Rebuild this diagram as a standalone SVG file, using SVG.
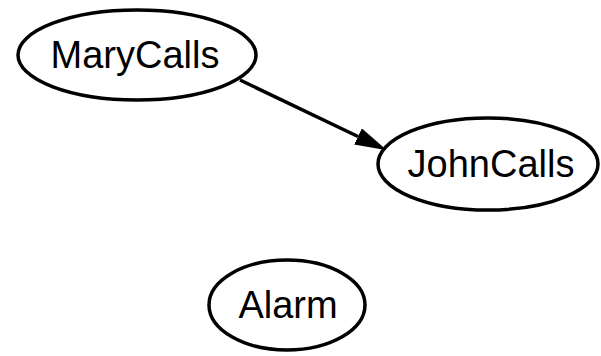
<svg xmlns="http://www.w3.org/2000/svg" width="601" height="356" viewBox="0 0 601 356">
<style>
.node ellipse{fill:#fff;stroke:#000;stroke-width:3.5}
.node text{font-family:"Liberation Sans",Arial,sans-serif;font-size:38px;fill:#000;text-anchor:middle}
.edge line{stroke:#000;stroke-width:3.5}
</style>
<defs>
<marker id="arr" markerUnits="userSpaceOnUse" viewBox="0 0 32 18" markerWidth="32" markerHeight="18" refX="0" refY="9" orient="auto">
<path d="M0,0 L32,9 L0,18 z" fill="#000"/>
</marker>
</defs>
<rect width="601" height="356" fill="#fff"/>
<g id="edges" class="edge">
<line x1="240" y1="80" x2="358" y2="136.5" marker-end="url(#arr)"/>
</g>
<g id="MaryCalls" class="node">
<ellipse cx="137" cy="55" rx="119" ry="45"/>
<text x="135" y="68">MaryCalls</text>
</g>
<g id="JohnCalls" class="node">
<ellipse cx="488" cy="164" rx="110" ry="46"/>
<text x="491" y="177">JohnCalls</text>
</g>
<g id="Alarm" class="node">
<ellipse cx="287" cy="305" rx="78" ry="45"/>
<text x="288" y="318">Alarm</text>
</g>
</svg>
